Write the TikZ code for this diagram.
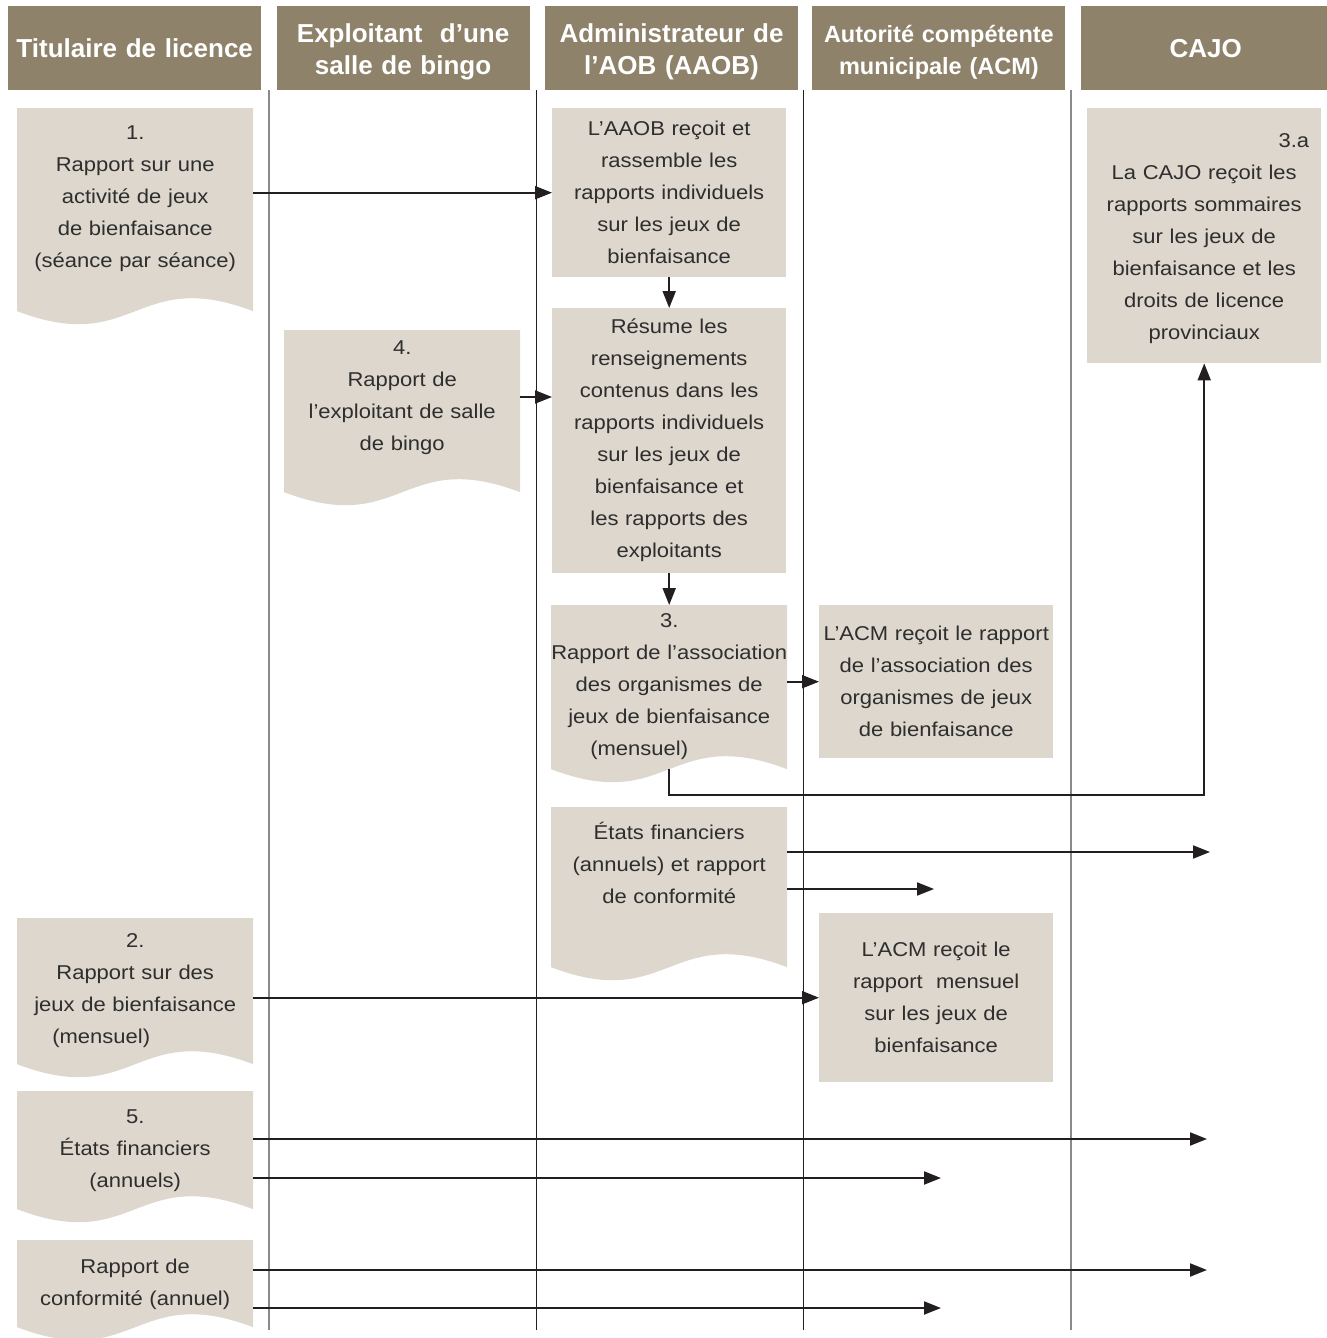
\documentclass[tikz,border=0pt]{standalone}
\usepackage{fontspec}
\setmainfont{Liberation Sans}
\newfontfamily\bodyfont[FakeStretch=1.1]{Liberation Sans}
\usetikzlibrary{positioning,arrows.meta}
\definecolor{headbrown}{HTML}{8F826B}
\definecolor{boxbeige}{HTML}{DDD7CD}
\definecolor{inkgray}{HTML}{2E2E2E}
\definecolor{linedark}{HTML}{231F20}
\definecolor{lanegray}{HTML}{8A8A8A}

\begin{document}
\begin{tikzpicture}[x=1pt,y=1pt,
    head/.style={fill=headbrown,text=white,font=\bfseries\fontsize{26}{32}\selectfont,
      align=center,text width=253pt,minimum height=84pt,inner sep=0pt},
    twolines/.style={text height=25pt,text depth=37pt},
    rbox/.style={fill=boxbeige,text=inkgray,font=\bodyfont\fontsize{20}{32}\selectfont,
      align=center,inner sep=0pt,anchor=north west,text width=234pt},
    doc/.style 2 args={text=inkgray,font=\bodyfont\fontsize{20}{32}\selectfont,
      align=center,inner sep=0pt,anchor=north west,text width=236pt,
      text height=#1,text depth=#2,
      path picture={\fill[boxbeige] (path picture bounding box.north west)
        -- (path picture bounding box.north east)
        -- ([yshift=13pt]path picture bounding box.south east)
        .. controls ([yshift=58pt]path picture bounding box.south)
        and ([yshift=-32pt]path picture bounding box.south)
        .. ([yshift=13pt]path picture bounding box.south west) -- cycle;}},
    conn/.style={draw=linedark,line width=2pt,-{Triangle[length=17pt,width=13pt]}}]
  \useasboundingbox (0,0) rectangle (1327,-1338);

  % lane headers
  \node[head,anchor=north west] (hTit) at (8,-6) {Titulaire de licence};
  \node[head,twolines,right=15pt of hTit] (hExpl) {Exploitant\ \ d’une\\salle de bingo};
  \node[head,twolines,right=15pt of hExpl] (hAAOB) {Administrateur de\\l’AOB (AAOB)};
  \node[head,twolines,right=14pt of hAAOB,font=\bfseries\fontsize{23.5}{32}\selectfont] (hACM) {Autorité compétente\\municipale (ACM)};
  \node[head,right=15pt of hACM,text width=250pt] (hCAJO) {CAJO};

  % lane separators
  \foreach \x/\c/\w in {269/lanegray/1.2,536/linedark/0.9,803/linedark/0.9,1071/lanegray/1.2}
    \draw[\c,line width=\w pt] (\x,-90) -- (\x,-1330);

  % Titulaire de licence
  \node[doc={31pt}{185pt}] (rap1) at (17,-108) {1.\\Rapport sur une\\activité de jeux\\de bienfaisance\\(séance par séance)};
  \node[doc={29pt}{130pt}] (rap2) at (17,-918) {2.\\Rapport sur des\\jeux de bienfaisance\\\hspace*{-68pt}(mensuel)};
  \node[doc={32pt}{99pt}] (rap5) at (17,-1091) {5.\\États financiers\\(annuels)};
  \node[doc={33pt}{67pt}] (rap6) at (17,-1240) {Rapport de\\conformité (annuel)};

  % Exploitant
  \node[doc={24pt}{151pt}] (rapExpl) at (284,-330) {4.\\Rapport de\\l’exploitant de salle\\de bingo};

  % AAOB
  \node[rbox,minimum height=169pt] (recoit) at (552,-108) {L’AAOB reçoit et\\rassemble les\\rapports individuels\\sur les jeux de\\bienfaisance};
  \node[rbox,minimum height=265pt] (resume) at (552,-308) {Résume les\\renseignements\\contenus dans les\\rapports individuels\\sur les jeux de\\bienfaisance et\\les rapports des\\exploitants};
  \node[doc={22pt}{155pt}] (assoc) at (551,-605) {3.\\Rapport de l’association\\des organismes de\\jeux de bienfaisance\\\hspace*{-60pt}(mensuel)};
  \node[doc={32pt}{141pt}] (etats) at (551,-807) {États financiers\\(annuels) et rapport\\de conformité};

  % ACM
  \node[rbox,minimum height=153pt] (acmAssoc) at (819,-605) {L’ACM reçoit le rapport\\de l’association des\\organismes de jeux\\de bienfaisance};
  \node[rbox,minimum height=169pt] (acmMens) at (819,-913) {L’ACM reçoit le\\rapport\ \ mensuel\\sur les jeux de\\bienfaisance};

  % CAJO
  \node[rbox,minimum height=255pt,text depth=191pt] (cajo) at (1087,-108) {\hskip0pt plus 1filll 3.a\kern12pt\\La CAJO reçoit les\\rapports sommaires\\sur les jeux de\\bienfaisance et les\\droits de licence\\provinciaux};

  % free ends
  \coordinate (efCajo) at (1210,-852);
  \coordinate (efAcm) at (934,-889);
  \coordinate (f5Cajo) at (1207,-1139);
  \coordinate (f5Acm) at (941,-1178);
  \coordinate (f6Cajo) at (1207,-1270);
  \coordinate (f6Acm) at (941,-1308);
  \coordinate (yExpl) at (0,-397);

  \draw[conn] (rap1.east |- recoit.west) -- (recoit.west);
  \draw[conn] (recoit.south) -- (resume.north);
  \draw[conn] (rapExpl.east |- yExpl) -- (resume.west |- yExpl);
  \draw[conn] (resume.south) -- (assoc.north);
  \draw[conn] (assoc.east |- acmAssoc.west) -- (acmAssoc.west);
  \draw[conn] ([yshift=13pt]assoc.south) -- ++(0,-26) -| (cajo.south);
  \draw[conn] (etats.east |- efCajo) -- (efCajo);
  \draw[conn] (etats.east |- efAcm) -- (efAcm);
  \draw[conn] (rap2.east |- acmMens.west) -- (acmMens.west);
  \draw[conn] (rap5.east |- f5Cajo) -- (f5Cajo);
  \draw[conn] (rap5.east |- f5Acm) -- (f5Acm);
  \draw[conn] (rap6.east |- f6Cajo) -- (f6Cajo);
  \draw[conn] (rap6.east |- f6Acm) -- (f6Acm);
\end{tikzpicture}
\end{document}
